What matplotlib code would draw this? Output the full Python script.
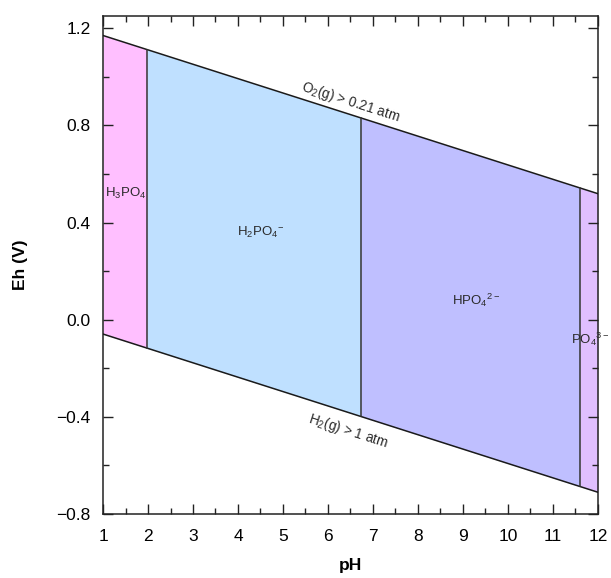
"""Eh-pH diagram for phosphate species (25 C)."""

import numpy as np
import matplotlib
matplotlib.use("Agg")
import matplotlib.pyplot as plt
from matplotlib.ticker import MultipleLocator, FuncFormatter

plt.rcParams["font.family"] = ["Liberation Sans", "DejaVu Sans"]
plt.rcParams["mathtext.default"] = "regular"

# water stability limits: Eh = a + b * pH
O2_INTERCEPT, H2_INTERCEPT = 1.229, 0.0
SLOPE = -0.0592

# predominance boundaries (pH) and field colours
PH_RANGE = (1.0, 12.0)
BOUNDARIES = [1.98, 6.73, 11.6]
SPECIES = ["H$_3$PO$_4$", "H$_2$PO$_4$$^{-}$", "HPO$_4$$^{2-}$", "PO$_4$$^{3-}$"]
FIELD_COLORS = ["#ffbfff", "#bfe0ff", "#bfbfff", "#e0bfff"]
LABEL_PH = [1.5, 4.5, 9.3, 11.83]
LABEL_EH = [0.52, 0.36, 0.08, -0.08]


def o2_line(ph):
    return O2_INTERCEPT + SLOPE * np.asarray(ph)


def h2_line(ph):
    return H2_INTERCEPT + SLOPE * np.asarray(ph)


fig = plt.figure(figsize=(6.11, 5.78), dpi=100)
ax = fig.add_axes([0.1686, 0.1107, 0.81, 0.8616])

edges = [PH_RANGE[0]] + BOUNDARIES + [PH_RANGE[1]]
for lo, hi, color in zip(edges[:-1], edges[1:], FIELD_COLORS):
    xs = np.array([lo, hi])
    ax.fill_between(xs, h2_line(xs), o2_line(xs), color=color, lw=0, zorder=1)

xs = np.array(PH_RANGE)
ax.plot(xs, o2_line(xs), color="#1a1a1a", lw=1.1, zorder=3)
ax.plot(xs, h2_line(xs), color="#1a1a1a", lw=1.1, zorder=3)
for b in BOUNDARIES:
    ax.plot([b, b], [h2_line(b), o2_line(b)], color="#333333", lw=1.1, zorder=3)

for name, px, eh in zip(SPECIES, LABEL_PH, LABEL_EH):
    ax.text(px, eh, name, ha="center", va="center", fontsize=9.5,
            color="#2a2a2a", zorder=4, clip_on=False)

ax.set_xlim(*PH_RANGE)
ax.set_ylim(-0.8, 1.25)

# rotate gas labels to follow the lines in screen space
fig.canvas.draw()
p0 = ax.transData.transform((1.0, o2_line(1.0)))
p1 = ax.transData.transform((12.0, o2_line(12.0)))
angle = np.degrees(np.arctan2(p1[1] - p0[1], p1[0] - p0[0]))
ax.text(6.5, 0.895, "O$_2$(g) > 0.21 atm", rotation=angle,
        ha="center", va="center", fontsize=9.8, color="#2a2a2a", zorder=4,
        rotation_mode="anchor")
ax.text(6.45, -0.46, "H$_2$(g) > 1 atm", rotation=angle,
        ha="center", va="center", fontsize=9.8, color="#2a2a2a", zorder=4,
        rotation_mode="anchor")

ax.xaxis.set_major_locator(MultipleLocator(1))
ax.xaxis.set_minor_locator(MultipleLocator(0.5))
ax.yaxis.set_major_locator(MultipleLocator(0.4))
ax.yaxis.set_minor_locator(MultipleLocator(0.2))
ax.tick_params(which="both", direction="in", top=True, right=True,
               labelsize=12.5, color="#222222")
ax.tick_params(axis="x", which="major", pad=11)
ax.tick_params(axis="y", which="major", pad=9)
ax.tick_params(which="major", length=7, width=1)
ax.tick_params(which="minor", length=4, width=1)
ax.yaxis.set_major_formatter(
    FuncFormatter(lambda v, _: f"{v:.1f}".replace("-", "\u2212")))
for s in ax.spines.values():
    s.set_color("#222222")
    s.set_linewidth(1.1)

ax.set_xlabel("pH", fontsize=12.5, fontweight="bold", labelpad=10)
ax.set_ylabel("Eh (V)", fontsize=12.5, fontweight="bold", labelpad=20)

fig.savefig("out.png", dpi=100)
